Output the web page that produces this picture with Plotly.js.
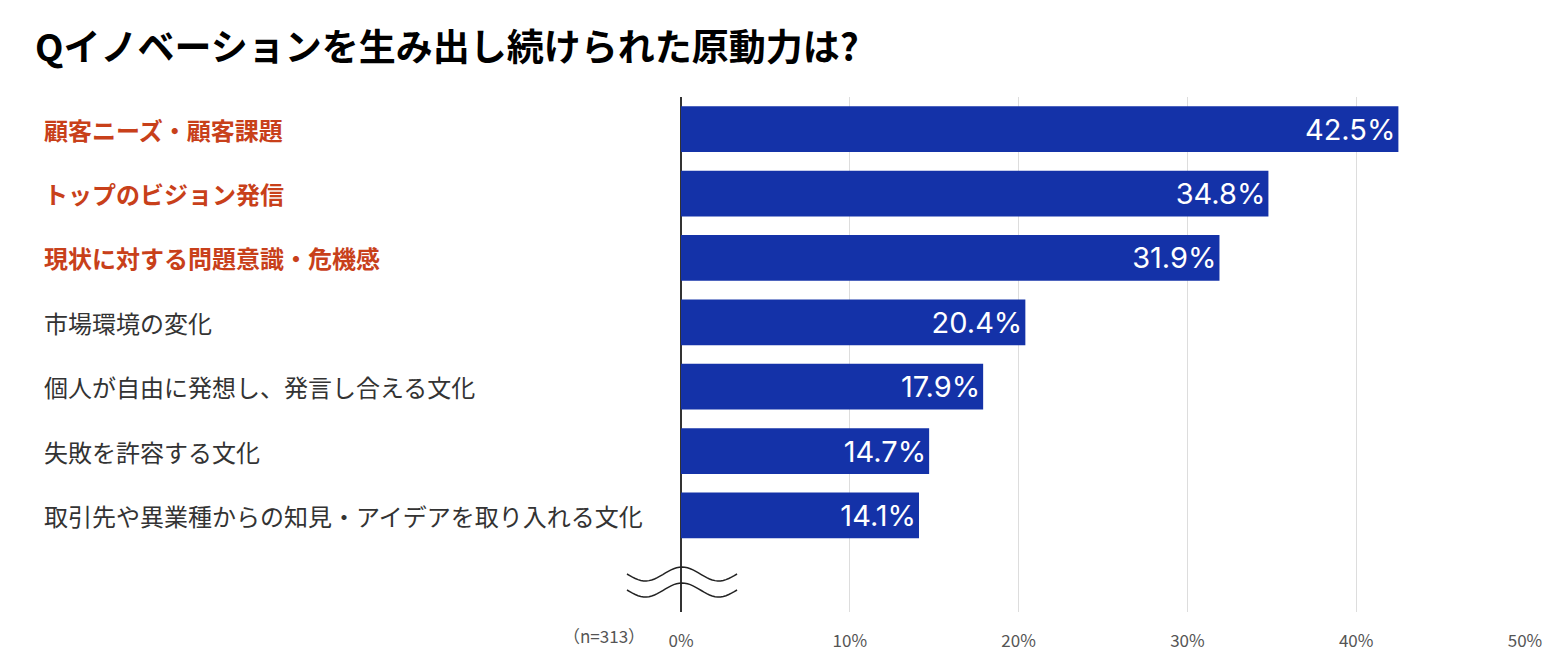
<!DOCTYPE html>
<html>
<head>
<meta charset="utf-8">
<script src="https://cdn.plot.ly/plotly-3.0.1.min.js"></script>
<style>body{margin:0;background:#fff}</style>
</head>
<body>
<div id="myDiv" style="width:1555px;height:657px"></div>
<script>
var categories = [
  '顧客ニーズ・顧客課題',
  'トップのビジョン発信',
  '現状に対する問題意識・危機感',
  '市場環境の変化',
  '個人が自由に発想し、発言し合える文化',
  '失敗を許容する文化',
  '取引先や異業種からの知見・アイデアを取り入れる文化'
];
var values = [42.5, 34.8, 31.9, 20.4, 17.9, 14.7, 14.1];
var highlighted = [true, true, true, false, false, false, false];

var font = 'Noto Sans CJK JP, Noto Sans, sans-serif';
var idx = categories.map(function (c, i) { return i; });

var trace = {
  type: 'bar',
  orientation: 'h',
  x: values,
  y: idx,
  width: 0.71,
  marker: { color: '#1432a8' },
  text: values.map(function (v) { return v.toFixed(1) + '%'; }),
  textposition: 'inside',
  insidetextanchor: 'end',
  textfont: { color: '#fff', size: 29, family: 'Inter, Noto Sans, sans-serif' },
  hoverinfo: 'none'
};

var annotations = categories.map(function (c, i) {
  return {
    xref: 'paper', yref: 'y', x: -0.757, y: i, xanchor: 'left',
    text: highlighted[i] ? '<b>' + c + '</b>' : c,
    showarrow: false,
    font: { size: 24, family: font, color: highlighted[i] ? '#c8401a' : '#333' }
  };
});
annotations.push({
  xref: 'paper', yref: 'paper', x: -0.04, y: -0.045, xanchor: 'right', yanchor: 'middle',
  text: '（n=313）', showarrow: false, font: { size: 17, family: font, color: '#555' }
});

// wavy break mark
function wave(y0) {
  var p = '';
  for (var k = 0; k <= 40; k++) {
    var px = 627 + k * 110 / 40;
    var py = y0 + 7 * Math.sin(k / 40 * 2 * Math.PI * 1.5);
    var xp = (px - 681) / 844, yp = (612 - py) / 515;
    p += (k ? 'L' : 'M') + xp.toFixed(4) + ',' + yp.toFixed(4);
  }
  return { type: 'path', xref: 'paper', yref: 'paper', path: p, line: { color: '#222', width: 1.5 } };
}

var layout = {
  width: 1555, height: 657,
  margin: { l: 681, r: 30, t: 97, b: 45 },
  paper_bgcolor: '#fff', plot_bgcolor: '#fff',
  showlegend: false,
  title: {
    text: '<b>Qイノベーションを生み出し続けられた原動力は?</b>',
    x: 35 / 1555, xanchor: 'left', y: 1 - 48 / 657, yanchor: 'middle',
    font: { size: 37, family: font, color: '#000' }
  },
  xaxis: {
    range: [0, 50], dtick: 10, ticksuffix: '%',
    ticks: 'outside', ticklen: 14, tickcolor: '#fff',
    showgrid: true, gridcolor: '#ddd', zeroline: true, zerolinecolor: '#333', zerolinewidth: 1.5,
    tickfont: { size: 17, family: font, color: '#555' }, fixedrange: true
  },
  yaxis: {
    range: [7.5, -0.5], showticklabels: false, showgrid: false, zeroline: false, fixedrange: true
  },
  annotations: annotations,
  shapes: [wave(574), wave(590)]
};

Plotly.newPlot('myDiv', [trace], layout, { displayModeBar: false });
</script>
</body>
</html>
